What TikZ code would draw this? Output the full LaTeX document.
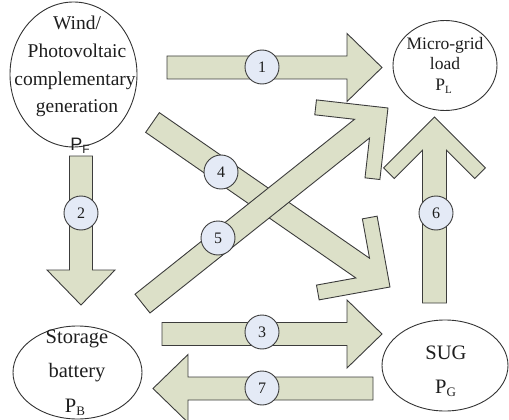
\documentclass[tikz,border=0pt]{standalone}
\usepackage{fontspec}
\setmainfont{Liberation Serif}
\newfontfamily\arialf{Liberation Sans}
\usetikzlibrary{shapes.geometric}
\definecolor{arrowfill}{RGB}{220,224,200}
\definecolor{arrowline}{RGB}{60,60,60}
\definecolor{labfill}{RGB}{228,234,246}
\definecolor{txtcol}{RGB}{30,30,30}
\tikzset{
  blockarrow/.style={fill=arrowfill, draw=arrowline, line width=0.9pt, line join=miter},
  numlabel/.style={circle, draw=arrowline, fill=labfill, line width=0.9pt, minimum size=34pt, inner sep=0pt, font=\fontsize{16}{16}\selectfont, text=txtcol},
  entity/.style={ellipse, draw=black!80, line width=0.9pt, inner sep=0pt},
  txt/.style={anchor=base, inner sep=0pt, text=txtcol},
}
% straight block arrow: tail point, angle, length
\newcommand\straightarrow[3]{%
  \begin{scope}[shift={#1}, rotate=#2]
    \filldraw[blockarrow] (0,11.5) -- ({#3-35},11.5) -- ({#3-35},34) -- (#3,0)
      -- ({#3-35},-34) -- ({#3-35},-11.5) -- (0,-11.5) -- cycle;
  \end{scope}}
% chevron-headed block arrow: tail point, angle, length
\newcommand\chevronarrow[3]{%
  \begin{scope}[shift={#1}, rotate=#2]
    \filldraw[blockarrow] (0,12) -- ({#3-33.2},12) -- ({#3-61.5},40.3) -- ({#3-50.9},50.9)
      -- (#3,0) -- ({#3-50.9},-50.9) -- ({#3-61.5},-40.3) -- ({#3-33.2},-12) -- (0,-12) -- cycle;
  \end{scope}}
\begin{document}
\begin{tikzpicture}[x=1pt, y=-1pt]
\useasboundingbox (0,0) rectangle (509,420);

% entities
\node[entity, minimum width=127pt, minimum height=145pt] (pf) at (73.5,74.5) {};
\node[entity, minimum width=104pt, minimum height=90pt] (pl) at (445,65.5) {};
\node[entity, minimum width=129pt, minimum height=93pt] (pb) at (77.5,372.5) {};
\node[entity, minimum width=126pt, minimum height=91pt] (pg) at (445,365.5) {};

% arrows
\straightarrow{(167,67.5)}{0}{215}
\straightarrow{(81,156)}{-90}{149}
\straightarrow{(162,334)}{0}{220}
\straightarrow{(373,388.5)}{180}{220}
\chevronarrow{(434.5,303)}{90}{186}
\chevronarrow{(152.5,122.5)}{-34.71}{288.9}
\chevronarrow{(142.5,303.6)}{38.55}{313.9}

% labels
\node[numlabel] (n1) at (262,67) {1};
\node[numlabel] (n2) at (81,213) {2};
\node[numlabel] (n3) at (262,332) {3};
\node[numlabel] (n4) at (221,172) {4};
\node[numlabel] (n5) at (218,238) {5};
\node[numlabel] (n6) at (436,213) {6};
\node[numlabel] (n7) at (262,388) {7};

% texts
\begin{scope}[font=\fontsize{19.5}{20}\selectfont]
\node[txt] (t1) at (77,30) {Wind/};
\node[txt] (t2) at (77,58) {Photovoltaic};
\node[txt] (t3) at (75,85.5) {complementary};
\node[txt] (t4) at (77,113) {generation};
\end{scope}
\node[txt] (t5) at (80,150) {\arialf\fontsize{18}{18}\selectfont P\raisebox{-3.5pt}{\fontsize{12}{12}\selectfont F}};

\begin{scope}[font=\fontsize{17.5}{18}\selectfont]
\node[txt] (t6) at (445,50) {Micro-grid};
\node[txt] (t7) at (445,70) {load};
\node[txt] (t8) at (443.5,91) {P\raisebox{-2.5pt}{\fontsize{11}{11}\selectfont L}};
\end{scope}

\begin{scope}[font=\fontsize{20.5}{21}\selectfont]
\node[txt] (t9) at (77,343) {Storage};
\node[txt] (t10) at (77,377) {battery};
\node[txt] (t11) at (75,412) {P\raisebox{-3pt}{\fontsize{13}{13}\selectfont B}};
\node[txt] (t12) at (446,359) {SUG};
\node[txt] (t13) at (445.5,393) {P\raisebox{-3pt}{\fontsize{13}{13}\selectfont G}};
\end{scope}
\end{tikzpicture}
\end{document}
